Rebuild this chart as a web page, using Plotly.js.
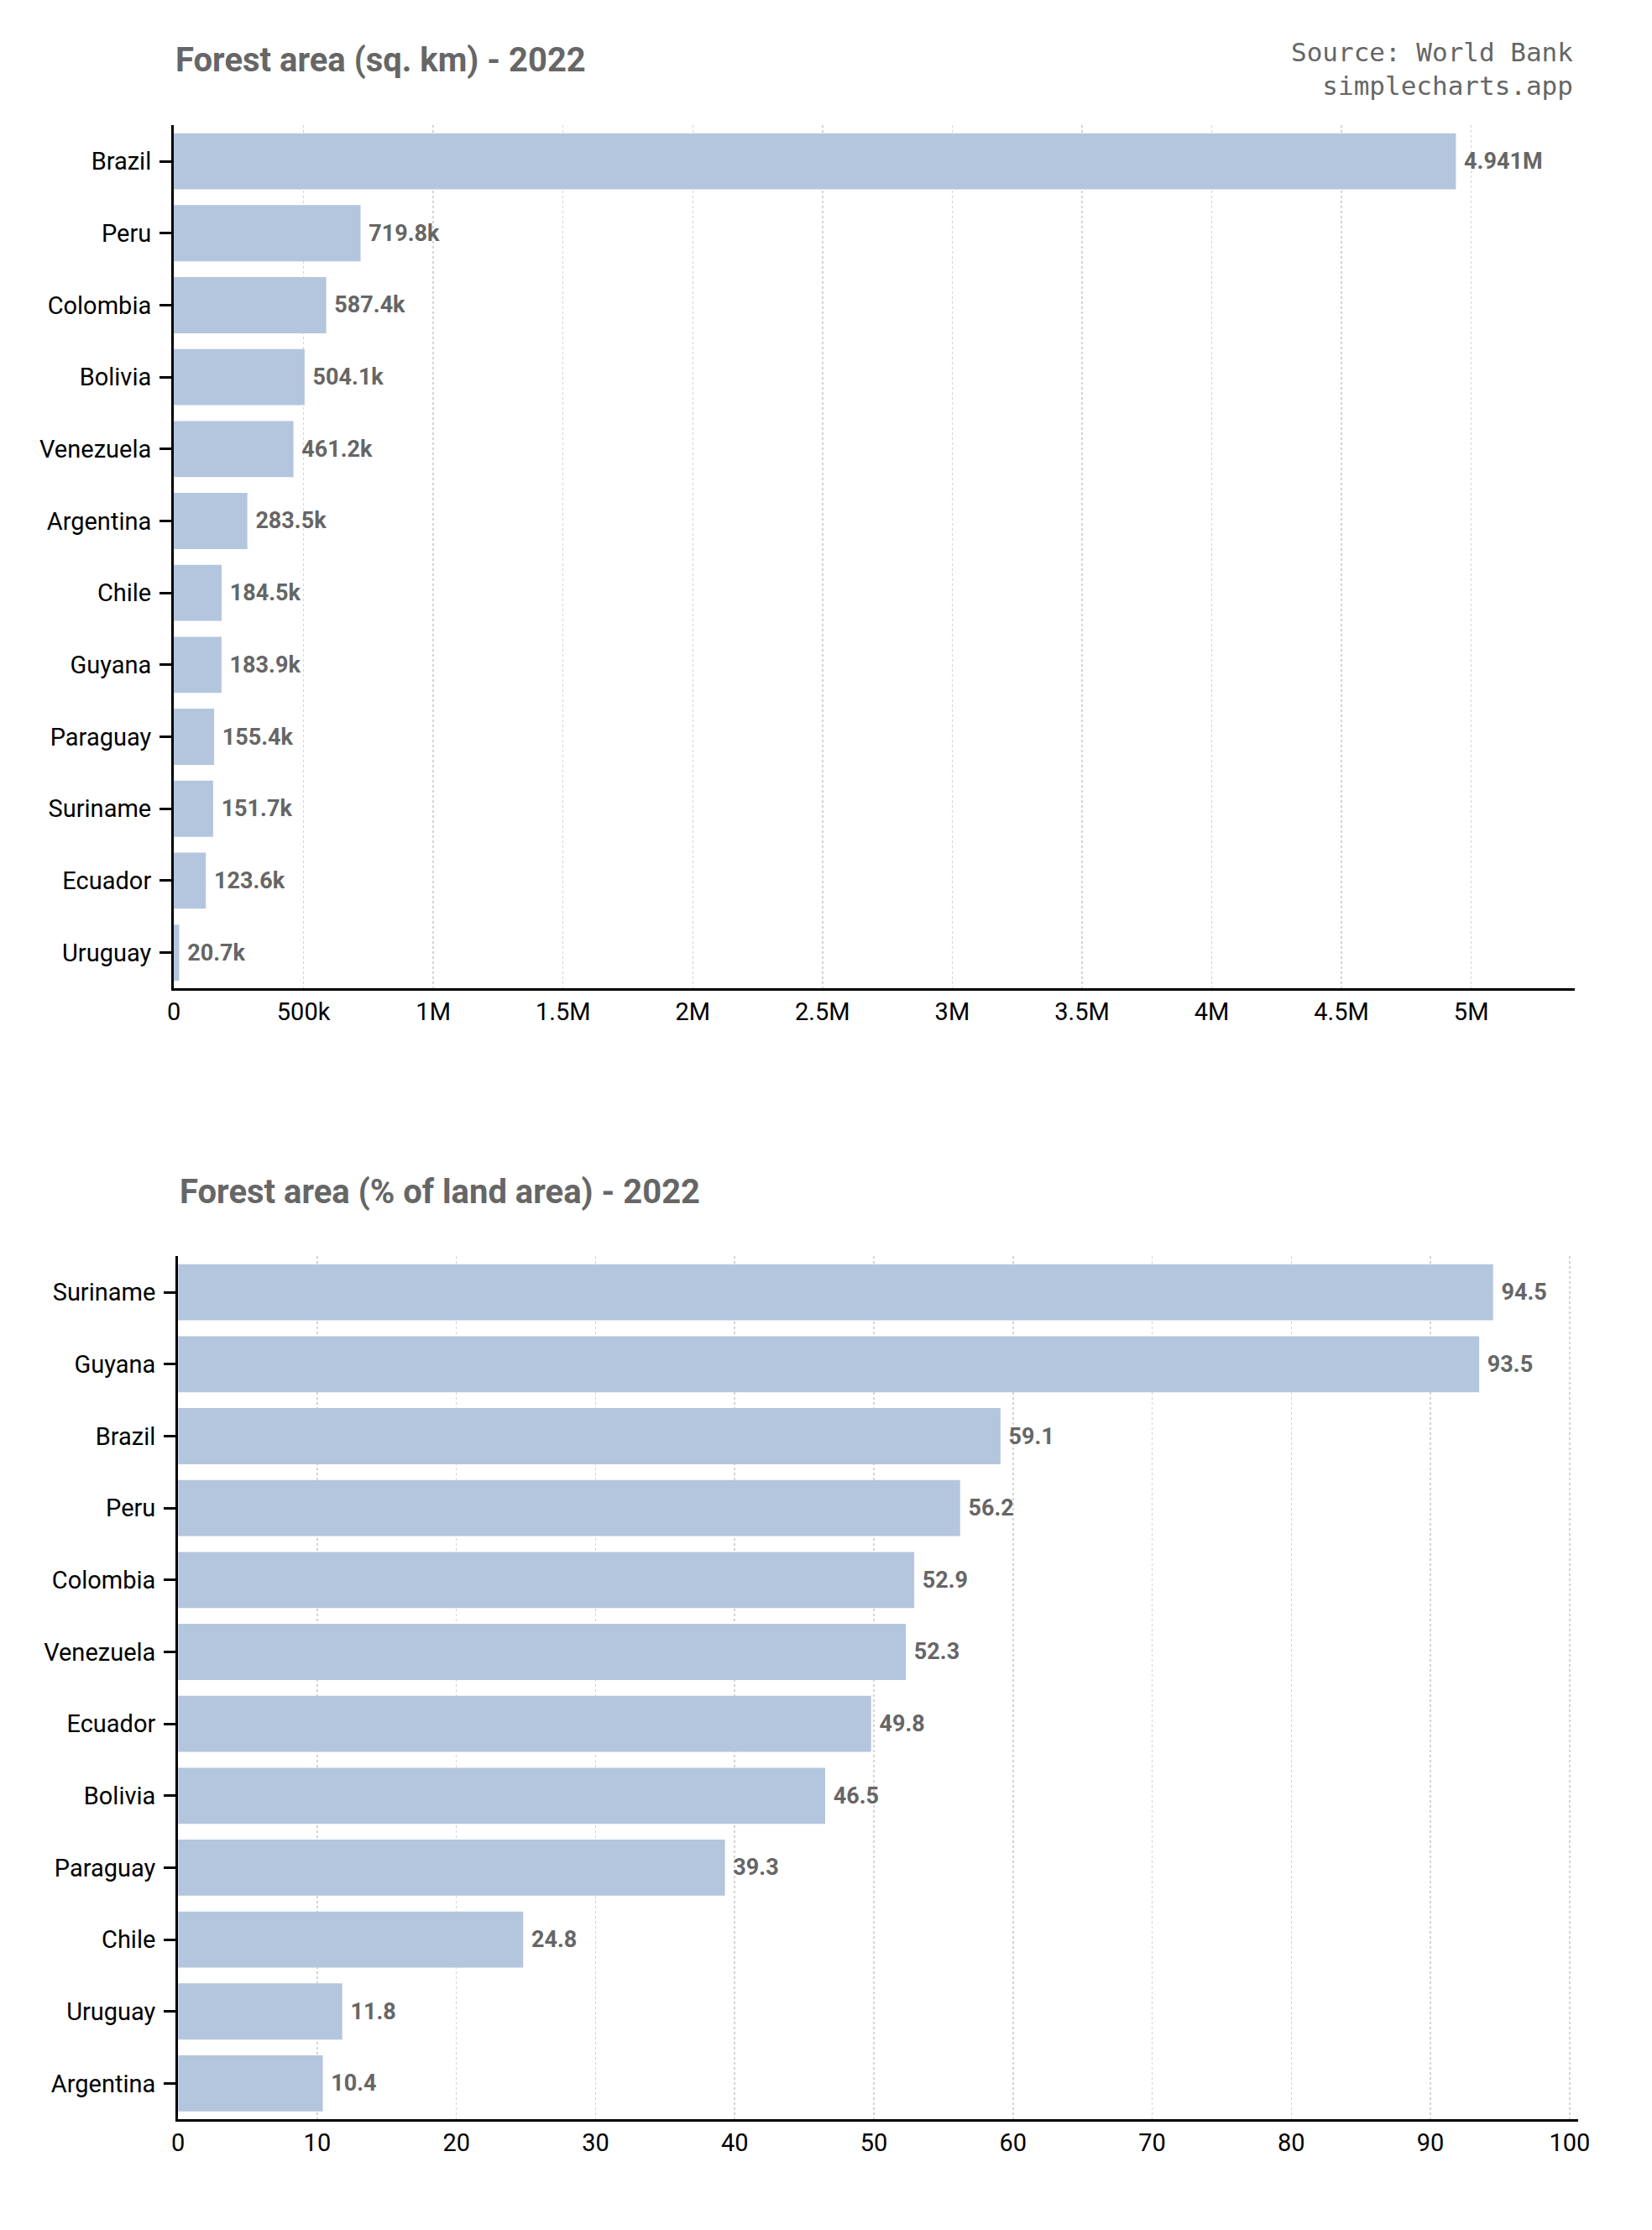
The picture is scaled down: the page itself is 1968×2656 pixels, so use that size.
<!DOCTYPE html>
<html>
<head>
<meta charset="utf-8">
<script src="https://cdn.plot.ly/plotly-3.0.1.min.js"></script>
<style>body{margin:0;background:#fff}#chart{width:1968px;height:2656px}</style>
</head>
<body>
<div id="chart"></div>
<script>
// Forest area, sq. km, 2022
const areaCountries = ['Brazil','Peru','Colombia','Bolivia','Venezuela','Argentina','Chile','Guyana','Paraguay','Suriname','Ecuador','Uruguay'];
const areaValues = [4941000, 719800, 587400, 504100, 461200, 283500, 184500, 183900, 155400, 151700, 123600, 20700];
const areaTickVals = [0, 500000, 1000000, 1500000, 2000000, 2500000, 3000000, 3500000, 4000000, 4500000, 5000000];
const areaTickText = ['0','500k','1M','1.5M','2M','2.5M','3M','3.5M','4M','4.5M','5M'];

// Forest area, % of land area, 2022
const pctCountries = ['Suriname','Guyana','Brazil','Peru','Colombia','Venezuela','Ecuador','Bolivia','Paraguay','Chile','Uruguay','Argentina'];
const pctValues = [94.5, 93.5, 59.1, 56.2, 52.9, 52.3, 49.8, 46.5, 39.3, 24.8, 11.8, 10.4];

const barColor = '#b3c6de';
const labelFont = {family: 'Roboto', size: 27, color: '#666', weight: 'bold'};

function fmtArea(v){
  return v >= 1e6 ? (v/1e6).toFixed(3) + 'M' : (v/1e3).toFixed(1) + 'k';
}

const data = [
  {
    type: 'bar', orientation: 'h',
    x: areaValues, y: areaCountries,
    xaxis: 'x', yaxis: 'y',
    marker: {color: barColor},
    text: areaValues.map(v => '\u00a0' + fmtArea(v)),
    textposition: 'outside', textfont: labelFont, cliponaxis: false,
    hoverinfo: 'none'
  },
  {
    type: 'bar', orientation: 'h',
    x: pctValues, y: pctCountries,
    xaxis: 'x2', yaxis: 'y2',
    marker: {color: barColor},
    text: pctValues.map(v => '\u00a0' + v.toFixed(1)),
    textposition: 'outside', textfont: labelFont, cliponaxis: false,
    hoverinfo: 'none'
  }
];

const xCommon = {
  showline: true, linecolor: '#000', linewidth: 3,
  showgrid: true, gridcolor: '#d4d4d4', griddash: 'dot', gridwidth: 1.5,
  zeroline: false, ticks: '', tickfont: {family: 'Roboto', size: 29, color: '#000'}
};
const yCommon = {
  showline: true, linecolor: '#000', linewidth: 3,
  ticks: 'outside', ticklen: 14, tickwidth: 3, tickcolor: '#000',
  ticklabelstandoff: 4,
  tickfont: {family: 'Roboto', size: 29, color: '#000'},
  autorange: 'reversed', showgrid: false
};

const layout = {
  width: 1968, height: 2656,
  margin: {l: 0, r: 0, t: 0, b: 0},
  paper_bgcolor: '#fff', plot_bgcolor: '#fff',
  showlegend: false, bargap: 0.22,
  font: {family: 'Roboto'},
  xaxis: Object.assign({}, xCommon, {
    domain: [0.1052, 0.9534], anchor: 'y', range: [0, 5400000],
    tickvals: areaTickVals, ticktext: areaTickText
  }),
  yaxis: Object.assign({}, yCommon, {domain: [0.5567, 0.9438], anchor: 'x'}),
  xaxis2: Object.assign({}, xCommon, {
    domain: [0.1078, 0.9552], anchor: 'y2', range: [0, 100.6], dtick: 10
  }),
  yaxis2: Object.assign({}, yCommon, {domain: [0.0496, 0.4366], anchor: 'x2'}),
  annotations: [
    {text: 'Forest area (sq. km) - 2022', xref: 'paper', yref: 'paper',
     x: 0.1052, y: 0.9732, xanchor: 'left', yanchor: 'middle', showarrow: false,
     font: {family: 'Roboto', size: 40, color: '#666', weight: 'bold'}},
    {text: 'Source: World Bank<br>simplecharts.app', xref: 'paper', yref: 'paper',
     x: 0.9534, y: 0.9693, xanchor: 'right', yanchor: 'middle', align: 'right', showarrow: false,
     font: {family: 'DejaVu Sans Mono', size: 31, color: '#666'}},
    {text: 'Forest area (% of land area) - 2022', xref: 'paper', yref: 'paper',
     x: 0.1078, y: 0.4654, xanchor: 'left', yanchor: 'middle', showarrow: false,
     font: {family: 'Roboto', size: 40, color: '#666', weight: 'bold'}}
  ]
};

Plotly.newPlot('chart', data, layout, {staticPlot: true});
</script>
</body>
</html>
